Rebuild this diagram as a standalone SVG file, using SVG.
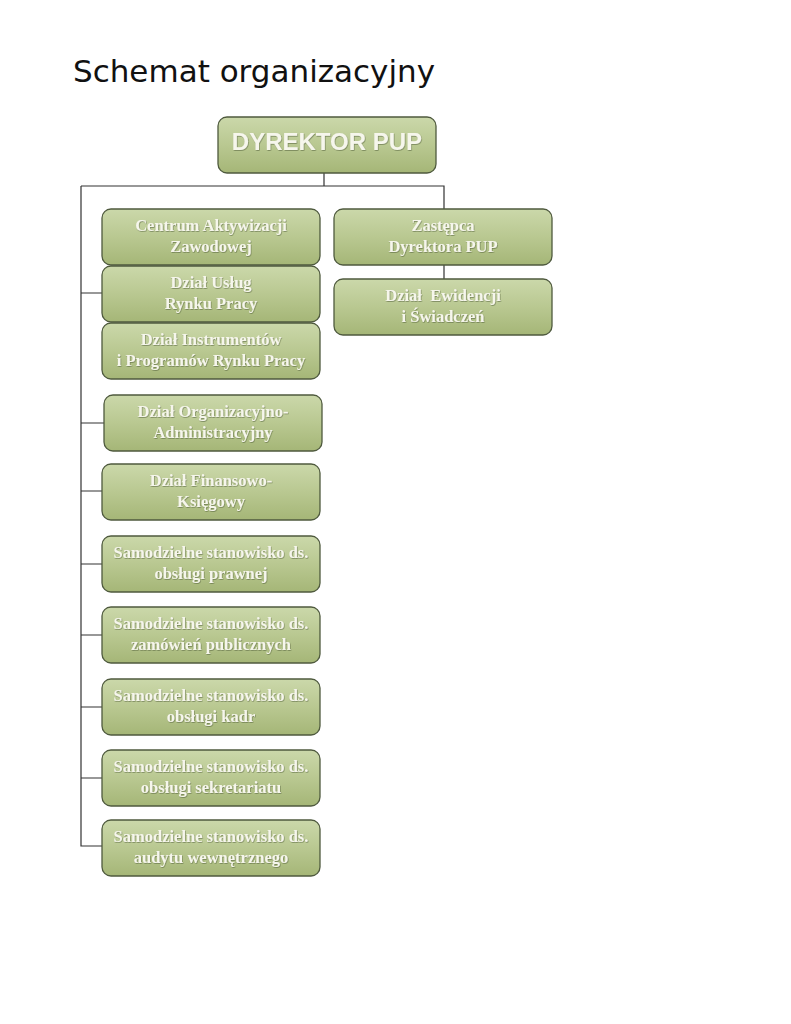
<svg xmlns="http://www.w3.org/2000/svg" width="791" height="1024" viewBox="0 0 791 1024">
<style>
.title{font-family:"DejaVu Sans",sans-serif;font-size:31px;fill:#111}
.box{fill:url(#g);stroke:#4f5a3e;stroke-width:1.3}
.t{font-family:"Liberation Serif","Times New Roman",serif;font-weight:bold;font-size:16.5px;fill:#f6f6ec;text-anchor:middle;filter:url(#ts)}
.big{font-family:"Liberation Sans",Arial,sans-serif;font-weight:bold;font-size:24px;fill:#f6f6ec;text-anchor:middle;filter:url(#ts)}
.ln{stroke:#333;stroke-width:1.2;fill:none}
</style>
<defs>
<linearGradient id="g" x1="0" y1="0" x2="0" y2="1">
<stop offset="0" stop-color="#cbd8aa"/>
<stop offset="0.5" stop-color="#b9c891"/>
<stop offset="1" stop-color="#a5b677"/>
</linearGradient>
<filter id="ts" x="-10%" y="-30%" width="120%" height="160%">
<feDropShadow dx="0.6" dy="0.8" stdDeviation="0.6" flood-color="#4a5530" flood-opacity="0.6"/>
</filter>
</defs>
<text class="title" x="73" y="82">Schemat organizacyjny</text>
<g id="connectors">
<path class="ln" d="M324 173 V186 M81 186 H444 V209 M81 186 V846 H102 M81 293 H102 M81 423 H104 M81 491 H102 M81 564 H102 M81 635 H102 M81 707 H102 M81 778 H102 M444 265 V279"/>
</g>
<g id="dyrektor"><rect class="box" x="218" y="117" width="218" height="56" rx="9"/><text class="big" x="327" y="150">DYREKTOR PUP</text></g>
<g id="centrum"><rect class="box" x="102" y="209" width="218" height="56" rx="9"/><text class="t" x="211" y="231">Centrum Aktywizacji</text><text class="t" x="211" y="252">Zawodowej</text></g>
<g id="uslug"><rect class="box" x="102" y="266" width="218" height="56" rx="9"/><text class="t" x="211" y="288">Dział Usług</text><text class="t" x="211" y="309">Rynku Pracy</text></g>
<g id="instrumentow"><rect class="box" x="102" y="323" width="218" height="56" rx="9"/><text class="t" x="211" y="345">Dział Instrumentów</text><text class="t" x="211" y="366">i Programów Rynku Pracy</text></g>
<g id="organizacyjno"><rect class="box" x="104" y="395" width="218" height="56" rx="9"/><text class="t" x="213" y="417">Dział Organizacyjno-</text><text class="t" x="213" y="438">Administracyjny</text></g>
<g id="finansowo"><rect class="box" x="102" y="464" width="218" height="56" rx="9"/><text class="t" x="211" y="486">Dział Finansowo-</text><text class="t" x="211" y="507">Księgowy</text></g>
<g id="prawnej"><rect class="box" x="102" y="536" width="218" height="56" rx="9"/><text class="t" x="211" y="558">Samodzielne stanowisko ds.</text><text class="t" x="211" y="579">obsługi prawnej</text></g>
<g id="zamowien"><rect class="box" x="102" y="607" width="218" height="56" rx="9"/><text class="t" x="211" y="629">Samodzielne stanowisko ds.</text><text class="t" x="211" y="650">zamówień publicznych</text></g>
<g id="kadr"><rect class="box" x="102" y="679" width="218" height="56" rx="9"/><text class="t" x="211" y="701">Samodzielne stanowisko ds.</text><text class="t" x="211" y="722">obsługi kadr</text></g>
<g id="sekretariatu"><rect class="box" x="102" y="750" width="218" height="56" rx="9"/><text class="t" x="211" y="772">Samodzielne stanowisko ds.</text><text class="t" x="211" y="793">obsługi sekretariatu</text></g>
<g id="audytu"><rect class="box" x="102" y="820" width="218" height="56" rx="9"/><text class="t" x="211" y="842">Samodzielne stanowisko ds.</text><text class="t" x="211" y="863">audytu wewnętrznego</text></g>
<g id="zastepca"><rect class="box" x="334" y="209" width="218" height="56" rx="9"/><text class="t" x="443" y="231">Zastępca</text><text class="t" x="443" y="252">Dyrektora PUP</text></g>
<g id="ewidencji"><rect class="box" x="334" y="279" width="218" height="56" rx="9"/><text class="t" x="443" y="301" xml:space="preserve">Dział  Ewidencji</text><text class="t" x="443" y="322">i Świadczeń</text></g>
</svg>
